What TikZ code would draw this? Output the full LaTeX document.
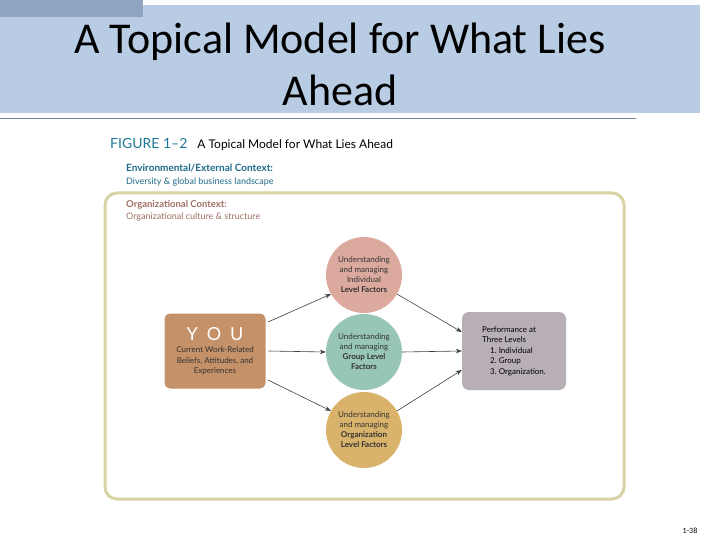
\documentclass[tikz,border=0pt]{standalone}
\usepackage{fontspec}
\setmainfont{Carlito}
\newfontfamily\fig{Lato}
\usetikzlibrary{arrows.meta}
\definecolor{hdr}{HTML}{B8CCE4}
\definecolor{strip}{HTML}{8EA4C0}
\definecolor{teal}{HTML}{1E7A9A}
\definecolor{envc}{HTML}{1E6A8A}
\definecolor{orgc}{HTML}{A06E66}
\definecolor{frame}{HTML}{D9D2A4}
\definecolor{pinkc}{HTML}{DBA99D}
\definecolor{tealc}{HTML}{97C6B7}
\definecolor{goldc}{HTML}{D9B36C}
\definecolor{youc}{HTML}{C59169}
\definecolor{perfc}{HTML}{B7AEB6}
\tikzset{
 circ/.style={circle,minimum size=76pt,inner sep=0pt,align=center,font=\fig\fontsize{8}{10}\selectfont,text=black!80},
 boxn/.style={rounded corners=7pt,minimum width=104pt,minimum height=78pt,align=center,font=\fig\fontsize{8}{10.5}\selectfont},
 arr/.style={-{Stealth[length=6pt]},draw=black!75,line width=0.6pt}
}
\begin{document}
\begin{tikzpicture}[x=1pt,y=-1pt]
\useasboundingbox (0,0) rectangle (720,540);
\fill[white] (0,0) rectangle (720,540);
\fill[hdr] (0,5) rectangle (700,113);
\fill[strip] (0,0) rectangle (143,17);
\draw[strip!80!black,line width=1pt] (0,119) -- (636,119);
\node[font=\fontsize{44}{52}\selectfont,align=center] (title) at (340,64) {A Topical Model for What Lies\\Ahead};
\node[anchor=west,inner sep=0pt] (fig) at (110,144) {{\fig\fontsize{14}{16}\selectfont\color{teal}FIGURE 1–2}\quad{\fig\fontsize{12}{14}\selectfont A Topical Model for What Lies Ahead}};
\node[anchor=west,inner sep=0pt,align=left,text=envc,font=\fig\fontsize{10}{12.5}\selectfont] (env) at (126,175) {\textbf{Environmental/External Context:}\\{\fontsize{9}{11}\selectfont Diversity \& global business landscape}};
\draw[frame,line width=3pt,rounded corners=12pt] (105,193) rectangle (624,499);
\node[anchor=west,inner sep=0pt,align=left,text=orgc,font=\fig\fontsize{9.5}{12}\selectfont] (org) at (126,211) {\textbf{Organizational Context:}\\{\fontsize{9}{11}\selectfont Organizational culture \& structure}};
\node[circ,fill=pinkc] (ind) at (364,275) {Understanding\\and managing\\Individual\\\textbf{Level Factors}};
\node[circ,fill=tealc] (grp) at (364,352) {Understanding\\and managing\\\textbf{Group Level}\\\textbf{Factors}};
\node[circ,fill=goldc] (orgn) at (364,430) {Understanding\\and managing\\\textbf{Organization}\\\textbf{Level Factors}};
\node[boxn,fill=youc,draw=white,line width=3pt,text=white] (you) at (215,351) {{\fontsize{18}{20}\selectfont Y\enspace O\enspace U}\\[2pt]{\color{black!80}Current Work-Related}\\{\color{black!80}Beliefs, Attitudes, and}\\{\color{black!80}Experiences}};
\node[boxn,fill=perfc] (perf) at (514,351) {\begin{tabular}{@{}l@{}}Performance at\\Three Levels\\\quad 1.\ Individual\\\quad 2.\ Group\\\quad 3.\ Organization.\end{tabular}};
\draw[arr] (268,322) -- (ind.210);
\draw[arr] (you.east) -- (grp.west);
\draw[arr] (268,380) -- (orgn.150);
\draw[arr] (ind.330) -- (perf.160);
\draw[arr] (grp.east) -- (perf.west);
\draw[arr] (orgn.30) -- (perf.200);
\node[font=\fontsize{8}{9}\selectfont] (pg) at (690,531) {1-38};
\end{tikzpicture}
\end{document}
